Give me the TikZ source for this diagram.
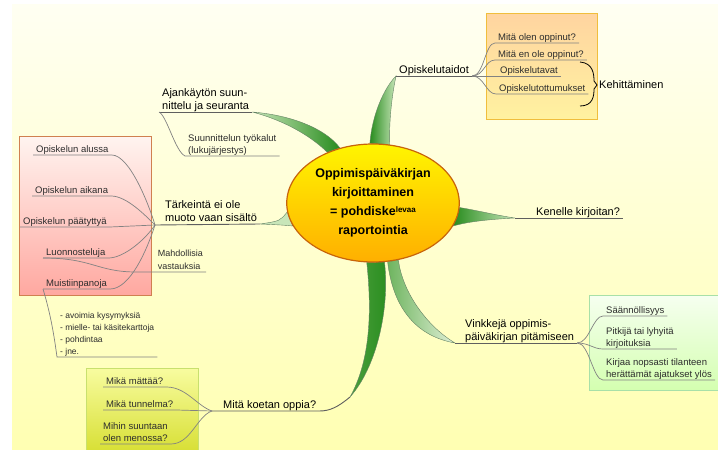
\documentclass[tikz,border=0pt]{standalone}
\usepackage{fontspec}
\setmainfont{Liberation Sans}
\usetikzlibrary{shapes.geometric,positioning}
\pgfdeclarelayer{bg}
\pgfdeclarelayer{leaves}
\pgfsetlayers{bg,leaves,main}
\definecolor{bgtop}{RGB}{255,255,242}
\definecolor{bgbot}{RGB}{255,255,178}
\definecolor{leafdark}{RGB}{40,140,30}
\definecolor{leafmid}{RGB}{110,180,95}
\definecolor{leafdeep}{RGB}{75,160,60}
\definecolor{leaflight}{RGB}{200,230,185}
\definecolor{leafpale}{RGB}{225,240,215}
\definecolor{leafline}{RGB}{100,130,100}
\definecolor{twiggray}{RGB}{130,130,130}
\definecolor{linegray}{RGB}{95,95,95}
\definecolor{subtext}{RGB}{45,45,45}
\definecolor{coretop}{RGB}{255,245,0}
\definecolor{corebot}{RGB}{255,175,0}
\definecolor{coreline}{RGB}{200,100,10}
\definecolor{orangetop}{RGB}{255,212,160}
\definecolor{orangebot}{RGB}{255,242,160}
\definecolor{orangeline}{RGB}{240,190,60}
\definecolor{pinktop}{RGB}{255,244,240}
\definecolor{pinkbot}{RGB}{255,168,160}
\definecolor{pinkline}{RGB}{208,128,80}
\definecolor{greentop}{RGB}{246,255,240}
\definecolor{greenbot}{RGB}{212,255,176}
\definecolor{greenline}{RGB}{168,224,168}
\definecolor{olivetop}{RGB}{248,252,160}
\definecolor{olivebot}{RGB}{214,222,48}
\definecolor{oliveline}{RGB}{200,224,110}

\begin{document}
\begin{tikzpicture}[x=1pt,y=-1pt,
  topic/.style={inner xsep=3pt,inner ysep=2.5pt,text depth=0pt,anchor=south west,align=left,font=\fontsize{11}{12.5}\selectfont},
  item/.style={inner xsep=3pt,inner ysep=2.5pt,text depth=0pt,anchor=south west,align=left,text=subtext,font=\fontsize{9.5}{11.5}\selectfont},
  under/.style={draw=linegray,line width=0.9pt},
  twig/.style={draw=twiggray,line width=0.7pt},
  leaf/.style={draw=leafline,line width=0.4pt},
  group/.style={line width=0.8pt}]
\useasboundingbox (0,0) rectangle (718,450);
\begin{pgfonlayer}{bg}
\fill[white] (0,0) rectangle (718,450);
\shade[top color=bgtop,bottom color=bgbot] (12,4) rectangle (718,450);
\path[group,draw=orangeline,top color=orangetop,bottom color=orangebot] (486,13) rectangle (597,119);
\path[group,draw=pinkline,top color=pinktop,bottom color=pinkbot] (19,136) rectangle (151,295);
\path[group,draw=greenline,top color=greentop,bottom color=greenbot] (589,295) rectangle (722,390);
\path[group,draw=oliveline,top color=olivetop,bottom color=olivebot] (86,368) rectangle (198,455);
\end{pgfonlayer}

\node[ellipse,minimum width=162pt,minimum height=118pt,draw=coreline,line width=1.2pt,top color=coretop,bottom color=corebot,align=center,font=\bfseries\fontsize{12.5}{19}\selectfont] (C) at (373,203) {Oppimispäiväkirjan\\kirjoittaminen\\= pohdiske{\fontsize{8}{8}\selectfont\raisebox{3pt}{levaa}}\\raportointia};

\node[topic] (skills) at (396,76) {Opiskelutaidot};
\node[topic] (plan) at (159,112) {Ajankäytön suun-\\nittelu ja seuranta};
\node[topic] (core) at (162,224) {Tärkeintä ei ole\\muoto vaan sisältö};
\node[topic] (whom) at (533,218) {Kenelle kirjoitan?};
\node[topic] (tips) at (462,343) {Vinkkejä oppimis-\\päiväkirjan pitämiseen};
\node[topic] (aim) at (220,411) {Mitä koetan oppia?};
\coordinate (hub) at (155,225);
\coordinate (whomroot) at (515,218);
\coordinate (tipsroot) at (455,343);
\coordinate (aimroot) at (350,397);
\coordinate (aimhub) at (212,411);

\node[item] (learned) at (495,43) {Mitä olen oppinut?};
\node[item] (notlearned) at (495,60) {Mitä en ole oppinut?};
\node[item] (ways) at (497,76) {Opiskelutavat};
\node[item] (habits) at (496,94) {Opiskelutottumukset};
\node[topic,anchor=west,inner xsep=2pt] (develop) at (597,85) {Kehittäminen};
\coordinate (bt) at (580,62);
\coordinate (bb) at (580,106);

\node[item] (tools) at (185,156) {Suunnittelun työkalut\\(lukujärjestys)};

\node[item] (start) at (33,155) {Opiskelun alussa};
\node[item] (during) at (32,196) {Opiskelun aikana};
\node[item] (after) at (20,227) {Opiskelun päätyttyä};
\node[item] (drafts) at (43,258) {Luonnosteluja};
\node[item] (notes) at (43,289) {Muistiinpanoja};
\node[item,anchor=south east,font=\fontsize{9}{13}\selectfont] (answers) at (206,272) {Mahdollisia\\vastauksia};
\node[item,font=\fontsize{8.5}{12}\selectfont] (list) at (57,357) {- avoimia kysymyksiä\\- mielle- tai käsitekarttoja\\- pohdintaa\\- jne.};

\node[item] (regular) at (603,316) {Säännöllisyys};
\node[item] (length) at (603,349) {Pitkijä tai lyhyitä\\kirjoituksia};
\node[item] (jot) at (603,380) {Kirjaa nopsasti tilanteen\\herättämät ajatukset ylös};

\node[item] (stuck) at (103,387) {Mikä mättää?};
\node[item] (mood) at (103,410) {Mikä tunnelma?};
\node[item] (direction) at (100,444) {Mihin suuntaan\\olen menossa?};

\begin{pgfonlayer}{leaves}
\path[leaf,left color=leafdark,right color=leaflight] (C.93) .. controls (372,115) and (384,88) .. (skills.south west) .. controls (391,100) and (389,125) .. (C.74) -- cycle;
\path[leaf,left color=leaflight,right color=leafdark] (plan.south east) .. controls (290,115) and (325,128) .. (C.121) -- (C.132) .. controls (315,140) and (290,122) .. (plan.south east) -- cycle;
\path[leaf,fill=leaflight] (core.south east) .. controls (280,221) .. (C.186) -- (C.196) .. controls (282,225) .. (core.south east) -- cycle;
\path[leaf,left color=leafdark,right color=leaflight] (C.-3) .. controls (475,210) and (500,216) .. (whomroot) .. controls (495,219) and (470,221) .. (C.-16) -- cycle;
\path[leaf,left color=leafmid,right color=leafpale] (C.-76) .. controls (392,300) and (410,335) .. (tipsroot) .. controls (425,325) and (402,290) .. (C.-66) -- cycle;
\path[leaf,left color=leafdeep,right color=leafdark] (C.-96) .. controls (373,320) and (368,365) .. (aimroot) .. controls (376,368) and (390,310) .. (C.-79) -- cycle;
\end{pgfonlayer}

\draw[under] (skills.south west) -- (skills.south east);
\draw[under] (plan.south west) -- (plan.south east);
\draw[under] (hub) -- (core.south east);
\draw[under] (whomroot) -- (whom.south east);
\draw[under] (tipsroot) -- (tips.south east);
\draw[under] (aimroot) .. controls (338,407) and (330,411) .. (aim.south east) -- (aimhub);

\draw[twig] (skills.south east) .. controls +(12,0) and +(-10,0) .. (learned.south west) -- (learned.south east);
\draw[twig] (skills.south east) .. controls +(12,0) and +(-10,0) .. (notlearned.south west) -- (notlearned.south east);
\draw[twig] (skills.south east) -- (ways.south east);
\draw[twig] (skills.south east) .. controls +(12,0) and +(-10,0) .. (habits.south west) -- (habits.south east);
\draw[line width=0.8pt] (bt) .. controls (593,63) and (594,74) .. (594,81) -- (develop.west) -- (594,89) .. controls (594,96) and (593,106) .. (bb);

\draw[twig] (plan.south west) .. controls +(8,4) and +(-10,-5) .. (tools.south west) -- (tools.south east);

\draw[twig] (start.south west) -- (start.south east) .. controls +(18,0) and +(-6,-20) .. (hub);
\draw[twig] (during.south west) -- (during.south east) .. controls +(15,0) and +(-10,-10) .. (hub);
\draw[twig] (after.south west) -- (after.south east) -- (hub);
\draw[twig] (drafts.south west) -- (drafts.south east) .. controls +(15,0) and +(-10,15) .. (hub);
\draw[twig] (notes.south west) -- (notes.south east) .. controls +(20,0) and +(-8,25) .. (hub);
\draw[twig] (drafts.south west) .. controls +(50,0) and +(-40,0) .. ([xshift=-18pt]answers.south west) -- (answers.south east);
\draw[twig] (notes.south west) .. controls +(6,20) and +(-4,-30) .. (list.south west) -- (list.south east);

\draw[twig] (tips.south east) .. controls +(12,0) and +(-10,0) .. (regular.south west) -- (regular.south east);
\draw[twig] (tips.south east) .. controls +(12,0) and +(-10,0) .. (length.south west) -- (length.south east);
\draw[twig] (tips.south east) .. controls +(12,0) and +(-10,0) .. (jot.south west) -- (jot.south east);

\draw[twig] (stuck.south west) -- (stuck.south east) .. controls +(20,0) and +(-15,-5) .. (aimhub);
\draw[twig] (mood.south west) -- (mood.south east) -- (aimhub);
\draw[twig] (direction.south west) -- (direction.south east) .. controls +(20,0) and +(-15,5) .. (aimhub);
\end{tikzpicture}
\end{document}
